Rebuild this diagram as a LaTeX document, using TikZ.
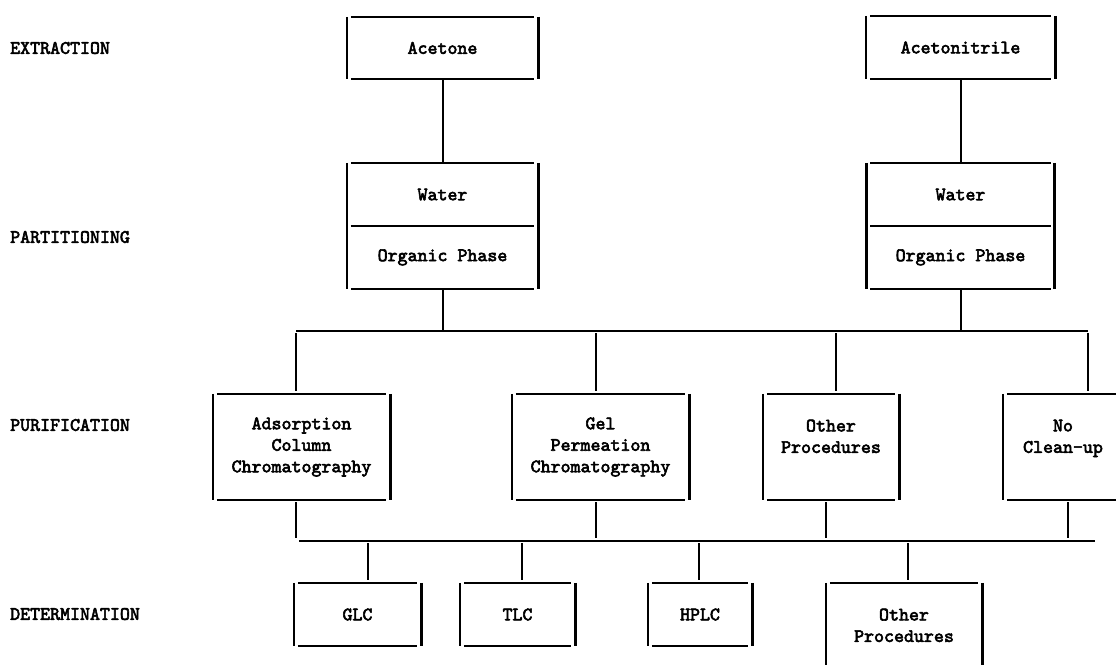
\documentclass[tikz,border=0pt]{standalone}
\usepackage{fontspec}
\newfontfamily\typer{lmmono10-regular.otf}[FakeBold=3]
\usetikzlibrary{positioning}
\tikzset{
	box/.style={rectangle,inner sep=0pt,align=center,font=\typer\bfseries\fontsize{19}{21.5}\selectfont},
	stage/.style={anchor=west,inner sep=0pt,font=\typer\bfseries\fontsize{19}{21.5}\selectfont},
	rim/.style={line width=2pt,shorten <=4pt,shorten >=4pt},
	side/.style={line width=2.6pt},
	link/.style={line width=2pt},
	drop/.style={line width=2pt,shorten <=2pt,shorten >=3pt}
}

\begin{document}
\begin{tikzpicture}[x=1pt,y=-1pt]
		\useasboundingbox (0,0) rectangle (1116,664);
		\clip (0,0) rectangle (1116,664);
		
		\node[stage] (extraction) at (10,48) {EXTRACTION};
		\node[stage] (partitioning) at (10,237) {PARTITIONING};
		\node[stage] (purification) at (10,425) {PURIFICATION};
		\node[stage] (determination) at (10,614) {DETERMINATION};
		
		\node[box,minimum width=191,minimum height=62] (acetone) at (442.5,48) {Acetone};
		\node[box,minimum width=189,minimum height=63] (nitrile) at (960.5,47.5) {Acetonitrile};
		
		\node[box,minimum width=191,minimum height=63] (waterA) at (442.5,194.5) {Water};
		\node[box,minimum width=191,minimum height=62,below=0pt of waterA] (organicA) {Organic Phase};
		\node[box,minimum width=188,minimum height=63] (waterB) at (960.5,194.5) {Water};
		\node[box,minimum width=188,minimum height=62,below=0pt of waterB] (organicB) {Organic Phase};
		
		\node[box,minimum width=177,minimum height=106] (adsorb) at (301.5,447) {Adsorption\\Column\\Chromatography};
		\node[box,minimum width=177,minimum height=106] (gel) at (600.5,447) {Gel\\Permeation\\Chromatography};
		\node[box,minimum width=136,minimum height=106] (otherP) at (831,447) {Other\\Procedures\\\mbox{}};
		\node[box,minimum width=120,minimum height=106] (noclean) at (1063,447) {No\\Clean-up\\\mbox{}};
		
		\node[box,minimum width=127,minimum height=63] (glc) at (357.5,614.5) {GLC};
		\node[box,minimum width=115,minimum height=63] (tlc) at (517.5,614.5) {TLC};
		\node[box,minimum width=104,minimum height=63] (hplc) at (700,614.5) {HPLC};
		\node[box,minimum width=156,minimum height=106] (otherD) at (904,636) {Other\\Procedures\\\mbox{}};
		
		% box outlines: thin top and bottom, heavy sides
		\foreach \b in {acetone,nitrile,waterA,organicA,waterB,organicB,adsorb,gel,otherP,noclean,glc,tlc,hplc,otherD} {
			\draw[rim] (\b.north west) -- (\b.north east);
			\draw[rim] (\b.south west) -- (\b.south east);
			\draw[side] (\b.north west) -- (\b.south west);
			\draw[side] (\b.north east) -- (\b.south east);
		}
		
		\coordinate (busAw) at (296,331);
		\coordinate (busAe) at (1088,331);
		\coordinate (busBw) at (299,541);
		\coordinate (busBe) at (1095,541);
		
		\draw[link] (acetone) -- (waterA);
		\draw[link] (nitrile) -- (waterB);
		\draw[link] (organicA) -- (organicA |- busAw);
		\draw[link] (organicB) -- (organicB |- busAw);
		\draw[link] (busAw) -- (busAe);
		\draw[link] (busBw) -- (busBe);
		
		\foreach \b/\dx in {adsorb/-5.5,gel/-4.5,otherP/5,noclean/25}
			\draw[drop] ([xshift=\dx pt]\b.north |- busAw) -- ([xshift=\dx pt]\b.north);
		\foreach \b/\dx in {adsorb/-5.5,gel/-4.5,otherP/-5,noclean/5}
			\draw[drop] ([xshift=\dx pt]\b.south) -- ([xshift=\dx pt]\b.south |- busBw);
		\foreach \b/\dx in {glc/10.5,tlc/4.5,hplc/-1,otherD/4}
			\draw[drop] ([xshift=\dx pt]\b.north |- busBw) -- ([xshift=\dx pt]\b.north);
\end{tikzpicture}
\end{document}
